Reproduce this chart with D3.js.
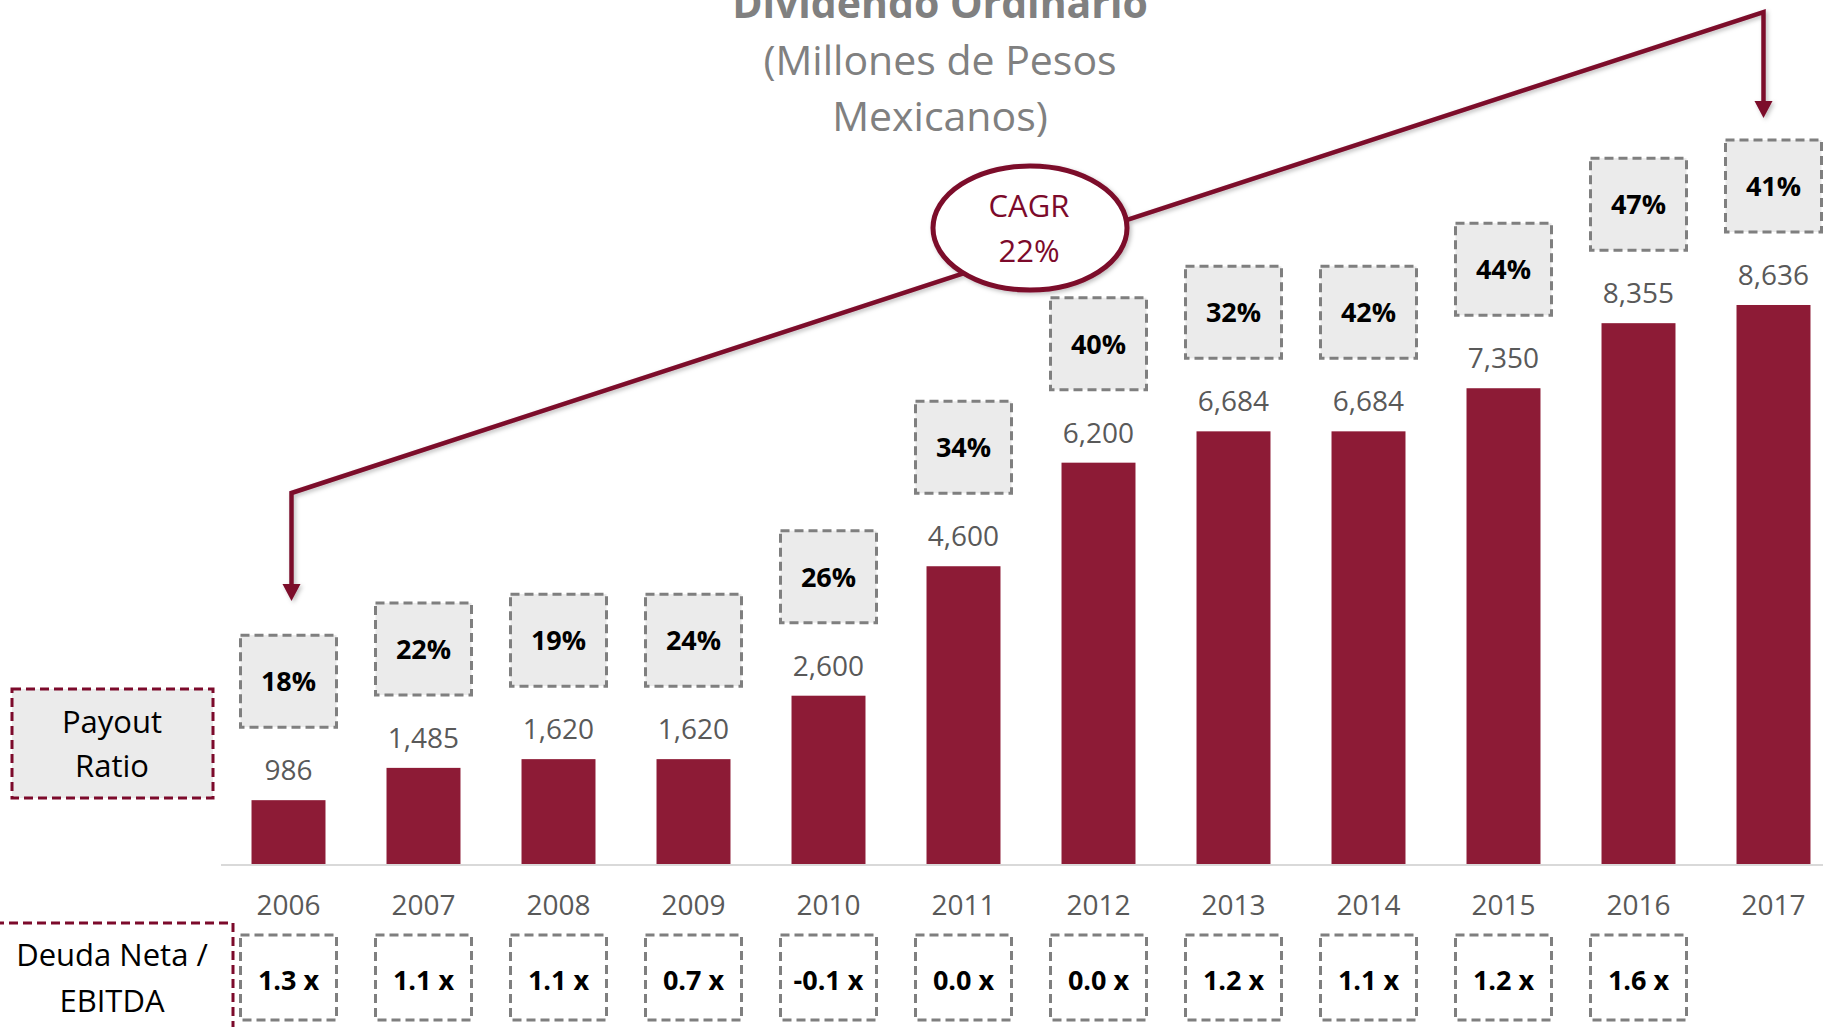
<!DOCTYPE html>
<html>
<head>
<meta charset="utf-8">
<script src="https://cdn.jsdelivr.net/npm/d3@7"></script>
<style>
  body { margin: 0; background: #fff; }
  text { font-family: "Open Sans", sans-serif; }
</style>
</head>
<body>
<div id="container"></div>
<script>
const w = 1823;
const h = 1027;

const years = ['2006', '2007', '2008', '2009', '2010', '2011', '2012', '2013', '2014', '2015', '2016', '2017'];
const dividend = [986, 1485, 1620, 1620, 2600, 4600, 6200, 6684, 6684, 7350, 8355, 8636];
const payout = ['18%', '22%', '19%', '24%', '26%', '34%', '40%', '32%', '42%', '44%', '47%', '41%'];
const debtYears = ['2006', '2007', '2008', '2009', '2010', '2011', '2012', '2013', '2014', '2015', '2016'];
const debtRatio = ['1.3 x', '1.1 x', '1.1 x', '0.7 x', '-0.1 x', '0.0 x', '0.0 x', '1.2 x', '1.1 x', '1.2 x', '1.6 x'];
const cagr = ['CAGR', '22%'];

const maroon = '#8d1b36';
const dark = '#7c0a2b';
const base = 864;

const svg = d3.select('#container')
  .append('svg')
  .attr('width', w)
  .attr('height', h)
  .attr('viewBox', [0, 0, w, h]);

const defs = svg.append('defs');
const f = defs.append('filter').attr('id', 'shadow')
  .attr('x', '-10%').attr('y', '-10%').attr('width', '130%').attr('height', '130%');
f.append('feDropShadow')
  .attr('dx', 2).attr('dy', 2).attr('stdDeviation', 2)
  .attr('flood-color', '#000').attr('flood-opacity', 0.25);

const x = d3.scaleBand()
  .domain(years)
  .range([221, 1841])
  .paddingInner(0.452)
  .paddingOuter(0.226);

const y = d3.scaleLinear()
  .domain([0, 10000])
  .range([base, base - 647.3]);

const cx = d => x(d) + x.bandwidth() / 2;

// title (top line is clipped by the frame, as in the original)
const title = svg.append('g')
  .attr('text-anchor', 'middle')
  .attr('fill', '#808080');
title.append('text')
  .attr('x', 940).attr('y', 18)
  .attr('font-size', 41).attr('font-weight', 'bold')
  .text('Dividendo Ordinario');
title.append('text')
  .attr('x', 940).attr('y', 75)
  .attr('font-size', 41)
  .text('(Millones de Pesos');
title.append('text')
  .attr('x', 940).attr('y', 131)
  .attr('font-size', 41)
  .text('Mexicanos)');

// baseline
svg.append('line')
  .attr('x1', 221).attr('x2', w)
  .attr('y1', base + 1).attr('y2', base + 1)
  .attr('stroke', '#d9d9d9').attr('stroke-width', 2);

// bars
svg.append('g')
  .selectAll('rect')
  .data(dividend)
  .join('rect')
  .attr('x', (d, i) => x(years[i]))
  .attr('y', d => y(d))
  .attr('width', x.bandwidth())
  .attr('height', d => base - y(d))
  .attr('fill', maroon);

// value labels
svg.append('g')
  .attr('text-anchor', 'middle')
  .selectAll('text')
  .data(dividend)
  .join('text')
  .attr('x', (d, i) => cx(years[i]))
  .attr('y', d => y(d) - 20)
  .attr('font-size', 28)
  .attr('fill', '#595959')
  .text(d => d3.format(',')(d));

// payout boxes
const boxW = 96, boxH = 92;
const pg = svg.append('g')
  .selectAll('g')
  .data(payout)
  .join('g')
  .attr('transform', (d, i) => `translate(${cx(years[i]) - boxW / 2},${y(dividend[i]) - 73 - boxH})`);
pg.append('rect')
  .attr('width', boxW).attr('height', boxH)
  .attr('fill', '#ebebeb')
  .attr('stroke', '#7f7f7f').attr('stroke-width', 3)
  .attr('stroke-dasharray', '9 5');
pg.append('text')
  .attr('x', boxW / 2).attr('y', boxH / 2 + 10)
  .attr('text-anchor', 'middle')
  .attr('font-size', 27).attr('font-weight', 'bold')
  .attr('fill', '#000')
  .text(d => d);

// year axis
const xAxis = d3.axisBottom(x).tickSize(0).tickPadding(0);
svg.append('g')
  .attr('transform', `translate(0,${base + 31})`)
  .call(xAxis)
  .call(g => g.select('.domain').remove())
  .call(g => g.selectAll('text')
    .attr('font-size', 28)
    .attr('fill', '#595959')
    .attr('dy', '0.71em')
    .style('font-family', '"Open Sans", sans-serif'));

// debt boxes
const dg = svg.append('g')
  .selectAll('g')
  .data(debtRatio)
  .join('g')
  .attr('transform', (d, i) => `translate(${cx(debtYears[i]) - boxW / 2},935)`);
dg.append('rect')
  .attr('width', boxW).attr('height', 85)
  .attr('fill', '#fff')
  .attr('stroke', '#7f7f7f').attr('stroke-width', 3)
  .attr('stroke-dasharray', '9 5');
dg.append('text')
  .attr('x', boxW / 2).attr('y', 55)
  .attr('text-anchor', 'middle')
  .attr('font-size', 27).attr('font-weight', 'bold')
  .attr('fill', '#000')
  .text(d => d);

// row labels
svg.append('rect')
  .attr('x', 12).attr('y', 689)
  .attr('width', 201).attr('height', 109)
  .attr('fill', '#ebebeb')
  .attr('stroke', dark).attr('stroke-width', 3)
  .attr('stroke-dasharray', '9 5');
svg.append('text')
  .attr('x', 112).attr('y', 733)
  .attr('text-anchor', 'middle').attr('font-size', 31)
  .text('Payout');
svg.append('text')
  .attr('x', 112).attr('y', 777)
  .attr('text-anchor', 'middle').attr('font-size', 31)
  .text('Ratio');

svg.append('path')
  .attr('d', 'M-5,923 H233 V1030')
  .attr('fill', 'none')
  .attr('stroke', dark).attr('stroke-width', 3)
  .attr('stroke-dasharray', '9 5');
svg.append('text')
  .attr('x', 112).attr('y', 966)
  .attr('text-anchor', 'middle').attr('font-size', 31)
  .text('Deuda Neta /');
svg.append('text')
  .attr('x', 112).attr('y', 1012)
  .attr('text-anchor', 'middle').attr('font-size', 31)
  .text('EBITDA');

// CAGR connector
const first = cx(years[0]) + 3;
const last = cx(years[years.length - 1]) - 10;
const conn = svg.append('g').attr('filter', 'url(#shadow)');
conn.append('path')
  .attr('d', `M${first},585 V493 L${last},12 V102`)
  .attr('fill', 'none')
  .attr('stroke', dark).attr('stroke-width', 4.5)
  .attr('stroke-linejoin', 'miter');
conn.append('path')
  .attr('d', `M${first - 9},584 L${first + 9},584 L${first},601 Z`)
  .attr('fill', dark);
conn.append('path')
  .attr('d', `M${last - 9},101 L${last + 9},101 L${last},118 Z`)
  .attr('fill', dark);

conn.append('ellipse')
  .attr('cx', 1030).attr('cy', 228)
  .attr('rx', 97).attr('ry', 62)
  .attr('fill', '#fff')
  .attr('stroke', dark).attr('stroke-width', 5);

svg.append('g')
  .attr('text-anchor', 'middle')
  .attr('fill', dark)
  .selectAll('text')
  .data(cagr)
  .join('text')
  .attr('x', 1029)
  .attr('y', (d, i) => 217 + i * 45)
  .attr('font-size', 31)
  .text(d => d);
</script>
</body>
</html>
